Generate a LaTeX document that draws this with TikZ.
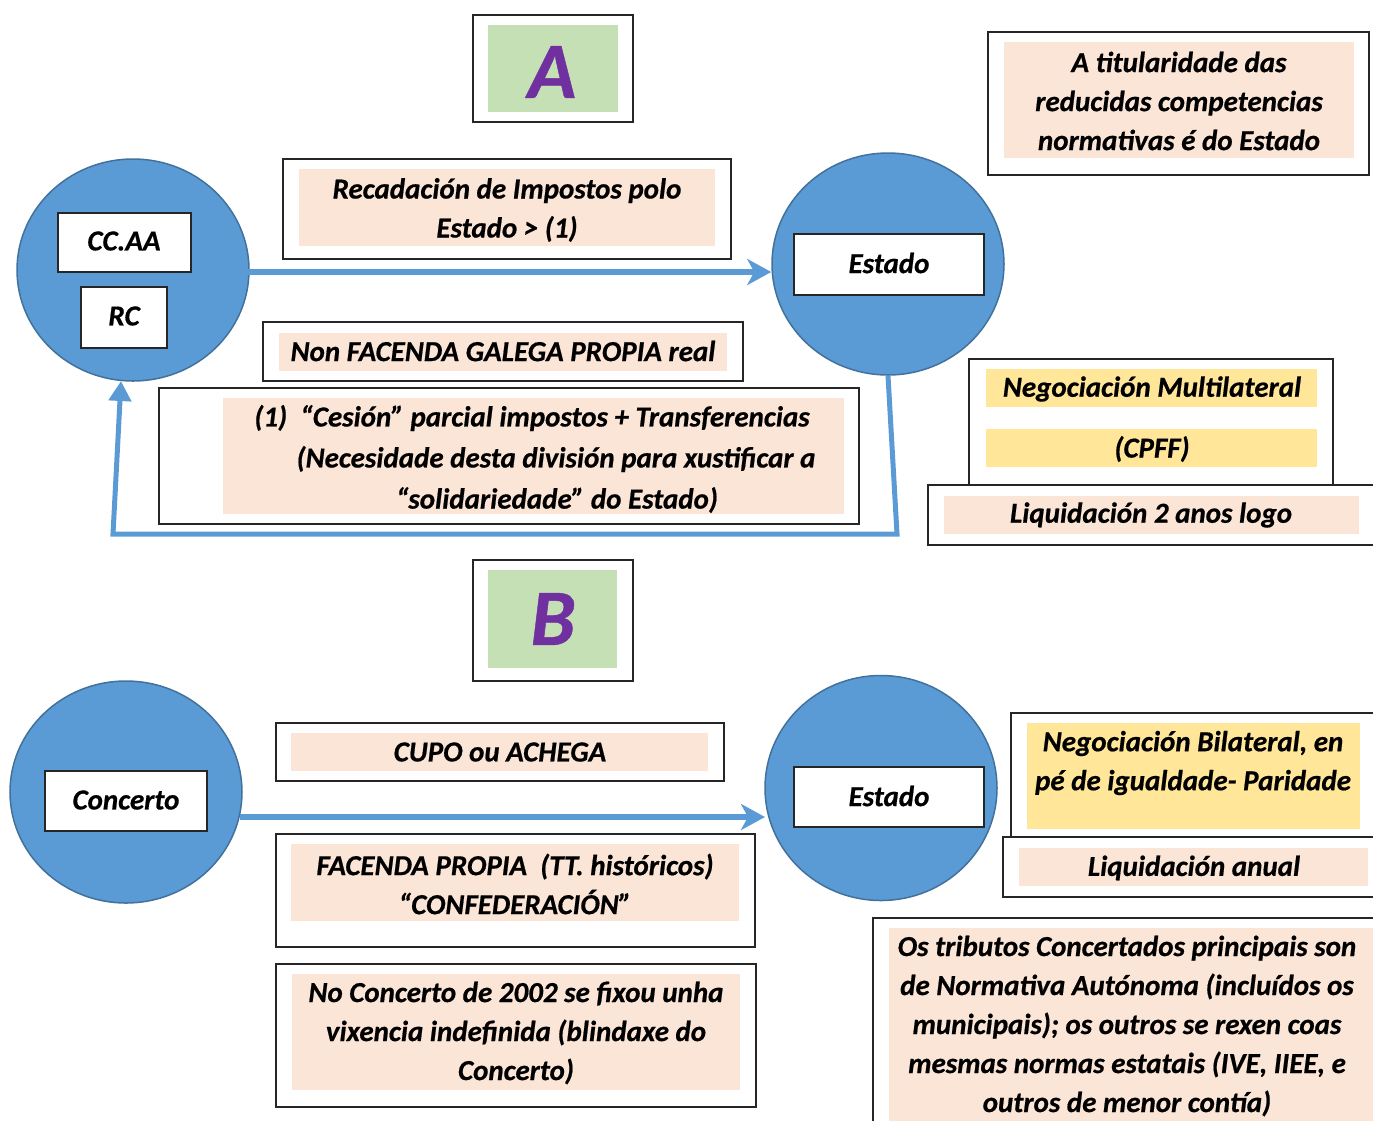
\documentclass[tikz,border=0pt]{standalone}
\usepackage{fontspec}
\setmainfont{Carlito}[BoldItalicFeatures={FakeBold=0.6}]
\usetikzlibrary{shapes.geometric,arrows.meta,fit,calc}
\definecolor{cblue}{HTML}{5B9BD5}
\definecolor{cbluedk}{HTML}{41719C}
\definecolor{peach}{HTML}{FBE5D6}
\definecolor{cyel}{HTML}{FFE699}
\definecolor{cgreen}{HTML}{C5E0B4}
\definecolor{cpurple}{HTML}{7030A0}
\newcommand\fs{\fontsize{29}{39}\selectfont\bfseries\itshape}
\begin{document}
\begin{tikzpicture}[x=1pt,y=-1pt,
  obox/.style={draw=black!85, line width=1.3pt, fill=white, inner sep=0pt},
  pbox/.style={fill=peach, draw=none, inner sep=0pt},
  ybox/.style={fill=cyel, draw=none, inner sep=0pt},
  gbox/.style={fill=cgreen, draw=none, inner sep=0pt},
  wbox/.style={draw=black!85, line width=1.3pt, fill=white, inner sep=0pt},
  bubble/.style={ellipse, fill=cblue, draw=cbluedk, line width=1.5pt, minimum width=232pt, minimum height=222pt, inner sep=0pt},
  txt/.style={font=\fs, align=center, inner sep=0pt},
  bigletter/.style={font=\fontsize{80}{82}\selectfont\bfseries\itshape, text=cpurple, inner sep=0pt},
  flow/.style={draw=cblue, line width=5.5pt, -{Stealth[length=24pt,width=26pt,inset=7pt]}},
  back/.style={draw=cblue, line width=5pt, line join=miter, -{Triangle[length=20pt,width=22pt]}}
]
\useasboundingbox (0,0) rectangle (1373,1120);
\clip (0,0) rectangle (1373,1120);

% ---------- A ----------
\node[obox, fit={(473,15) (633,122)}] (Aout) {};
\node[gbox, fit={(488,25) (618,112)}] (Ain) {};
\node[bigletter] (Alet) at (552,72) {A};

% ---------- top right ----------
\node[obox, fit={(988,32) (1369,175)}] (titout) {};
\node[pbox, fit={(1004,42) (1354,158)}] (titin) {};
\node[txt] (tittxt) at (1179,101) {A titularidade das\\reducidas competencias\\normativas é do Estado};

% ---------- circles top ----------
\node[bubble] (cc) at (133,270) {};
\node[wbox, fit={(58,213) (191,272)}] (ccbox) {};
\node[txt] (cctxt) at (124,241) {CC.AA};
\node[wbox, fit={(81,287) (167,348)}] (rcbox) {};
\node[txt] (rctxt) at (124,316) {RC};

\node[bubble] (est1) at (888,264) {};
\node[wbox, fit={(794,234) (984,295)}] (est1box) {};
\node[txt] (est1txt) at (889,263) {Estado};

% ---------- Recadacion ----------
\node[obox, fit={(283,159) (731,259)}] (recout) {};
\node[pbox, fit={(299,169) (715,246)}] (recin) {};
\node[txt] (rectxt) at (507,210) {Recadación de Impostos polo\\Estado > (1)};

% ---------- Non FACENDA ----------
\node[obox, fit={(263,322) (743,381)}] (nonout) {};
\node[pbox, fit={(279,333) (727,371)}] (nonin) {};
\node[txt] (nontxt) at (503,351) {Non FACENDA GALEGA PROPIA real};

% ---------- (1) ----------
\node[obox, fit={(159,388) (859,524)}] (oneout) {};
\node[pbox, fit={(223,398) (844,514)}] (onein) {};
\node[txt] (one1) at (532,418) {(1)\ \ “Cesión” parcial impostos + Transferencias};
\node[txt] (one2) at (556,459) {(Necesidade desta división para xustificar a};
\node[txt] (one3) at (557,500) {“solidariedade” do Estado)};

% ---------- Negociacion Multilateral ----------
\node[obox, fit={(969,359) (1333,485)}] (mulout) {};
\node[ybox, fit={(986,369) (1317,407)}] (mulin1) {};
\node[ybox, fit={(986,429) (1317,467)}] (mulin2) {};
\node[txt] (multxt1) at (1152,389) {Negociación Multilateral};
\node[txt] (multxt2) at (1152,449) {(CPFF)};

\node[obox, fit={(928,485) (1380,545)}] (liqout) {};
\node[pbox, fit={(944,496) (1359,534)}] (liqin) {};
\node[txt] (liqtxt) at (1151,515) {Liquidación 2 anos logo};

% ---------- connectors top ----------
\path (cc.center) ++(114,2) coordinate (a1s);
\draw[flow] (a1s) -- (a1s -| est1.west);
\coordinate (f1) at (897,534);
\coordinate (f2) at (113,534);
\coordinate (f3) at (121,381);
\draw[back] (est1.south) -- (f1) -- (f2) -- (f3);

% ---------- B ----------
\node[obox, fit={(473,560) (633,681)}] (Bout) {};
\node[gbox, fit={(488,570) (617,668)}] (Bin) {};
\node[bigletter] (Blet) at (553,619) {B};

% ---------- circles bottom ----------
\node[bubble] (cc2) at (126,792) {};
\node[wbox, fit={(45,771) (207,831)}] (conbox) {};
\node[txt] (contxt) at (126,800) {Concerto};

\node[bubble, minimum height=225pt] (est2) at (881,788) {};
\node[wbox, fit={(794,767) (984,827)}] (est2box) {};
\node[txt] (est2txt) at (889,796) {Estado};

\path (cc2.center) ++(114,25) coordinate (b1s);
\path (est2.center) ++(-116,29) coordinate (b1e);
\draw[flow] (b1s) -- (b1e);

% ---------- CUPO ----------
\node[obox, fit={(276,723) (724,781)}] (cupout) {};
\node[pbox, fit={(291,733) (708,771)}] (cupin) {};
\node[txt] (cuptxt) at (500,752) {CUPO ou ACHEGA};

% ---------- FACENDA PROPIA ----------
\node[obox, fit={(276,834) (755,947)}] (facout) {};
\node[pbox, fit={(291,844) (739,921)}] (facin) {};
\node[txt] (factxt) at (515,884) {FACENDA PROPIA\ \ (TT. históricos)\\“CONFEDERACIÓN”};

% ---------- No Concerto ----------
\node[obox, fit={(276,964) (756,1107)}] (ncout) {};
\node[pbox, fit={(292,974) (740,1090)}] (ncin) {};
\node[txt] (nctxt) at (516,1033) {No Concerto de 2002 se fixou unha\\vixencia indefinida (blindaxe do\\Concerto)};

% ---------- Negociacion Bilateral ----------
\node[obox, fit={(1011,713) (1380,837)}] (bilout) {};
\node[ybox, fit={(1027,723) (1360,829)}] (bilin) {};
\node[txt] (biltxt) at (1193,763) {Negociación Bilateral, en\\pé de igualdade- Paridade};

\node[obox, fit={(1003,837) (1380,897)}] (anout) {};
\node[pbox, fit={(1019,848) (1368,886)}] (anin) {};
\node[txt] (antxt) at (1194,868) {Liquidación anual};

% ---------- Os tributos ----------
\node[obox, fit={(873,918) (1390,1140)}] (osout) {};
\node[pbox, fit={(889,928) (1390,1140)}] (osin) {};
\node[txt] (ostxt) at (1127,1026) {Os tributos Concertados principais son\\de Normativa Autónoma (incluídos os\\municipais); os outros se rexen coas\\mesmas normas estatais (IVE, IIEE, e\\outros de menor contía)};
\end{tikzpicture}
\end{document}
